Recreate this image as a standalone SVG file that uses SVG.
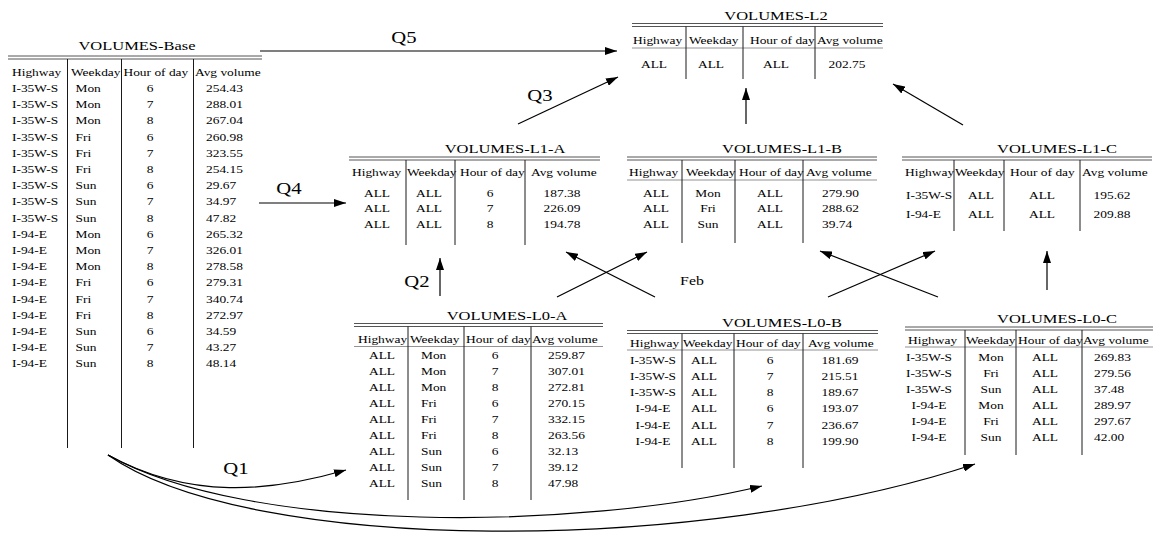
<svg xmlns="http://www.w3.org/2000/svg" width="1156" height="537" viewBox="0 0 1156 537">
<style>
 text { font-family: "Liberation Serif", "Times New Roman", serif; font-size: 11px; fill: #000; }
 .ti { font-size: 13.5px; }
 .q { font-size: 17px; }
 .m { text-anchor: middle; }
 .r { stroke: #555; stroke-width: 1; }
 .v { stroke: #1a1a1a; stroke-width: 1; }
 .u { stroke: #777; stroke-width: 0.8; }
 .a { fill: none; stroke: #000; stroke-width: 1.2; marker-end: url(#ah); }
</style>
<defs>
 <marker id="ah" markerUnits="userSpaceOnUse" markerWidth="12" markerHeight="8" refX="12" refY="4" orient="auto"><path d="M0,0 L12,4 L0,8 z" fill="#000"/></marker>
</defs>
<rect width="1156" height="537" fill="#fff"/>

<g id="volumes-base">
 <line class="r" x1="8" y1="56" x2="262" y2="56"/>
 <line class="r" x1="8" y1="59" x2="262" y2="59"/>
 <line class="v" x1="67.5" y1="59" x2="67.5" y2="448"/>
 <line class="v" x1="121.5" y1="59" x2="121.5" y2="448"/>
 <line class="v" x1="193.5" y1="59" x2="193.5" y2="448"/>
 <g transform="scale(1.22,1)">
  <text class="ti m" x="112.3" y="49.6">VOLUMES-Base</text>
  <text x="9.84" y="75.8">Highway</text>
  <text x="58.2" y="75.8">Weekday</text>
  <text x="101.23" y="75.8">Hour of day</text>
  <text x="159.84" y="75.8">Avg volume</text>
  <text><tspan x="9.84" y="92.1">I-35W-S</tspan><tspan x="9.84" y="108.3">I-35W-S</tspan><tspan x="9.84" y="124.5">I-35W-S</tspan><tspan x="9.84" y="140.7">I-35W-S</tspan><tspan x="9.84" y="156.9">I-35W-S</tspan><tspan x="9.84" y="173.1">I-35W-S</tspan><tspan x="9.84" y="189.3">I-35W-S</tspan><tspan x="9.84" y="205.5">I-35W-S</tspan><tspan x="9.84" y="221.7">I-35W-S</tspan><tspan x="9.84" y="237.9">I-94-E</tspan><tspan x="9.84" y="254.1">I-94-E</tspan><tspan x="9.84" y="270.3">I-94-E</tspan><tspan x="9.84" y="286.5">I-94-E</tspan><tspan x="9.84" y="302.7">I-94-E</tspan><tspan x="9.84" y="318.9">I-94-E</tspan><tspan x="9.84" y="335.1">I-94-E</tspan><tspan x="9.84" y="351.3">I-94-E</tspan><tspan x="9.84" y="367.5">I-94-E</tspan></text>
  <text><tspan x="61.89" y="92.1">Mon</tspan><tspan x="61.89" y="108.3">Mon</tspan><tspan x="61.89" y="124.5">Mon</tspan><tspan x="61.89" y="140.7">Fri</tspan><tspan x="61.89" y="156.9">Fri</tspan><tspan x="61.89" y="173.1">Fri</tspan><tspan x="61.89" y="189.3">Sun</tspan><tspan x="61.89" y="205.5">Sun</tspan><tspan x="61.89" y="221.7">Sun</tspan><tspan x="61.89" y="237.9">Mon</tspan><tspan x="61.89" y="254.1">Mon</tspan><tspan x="61.89" y="270.3">Mon</tspan><tspan x="61.89" y="286.5">Fri</tspan><tspan x="61.89" y="302.7">Fri</tspan><tspan x="61.89" y="318.9">Fri</tspan><tspan x="61.89" y="335.1">Sun</tspan><tspan x="61.89" y="351.3">Sun</tspan><tspan x="61.89" y="367.5">Sun</tspan></text>
  <text class="m"><tspan x="122.95" y="92.1">6</tspan><tspan x="122.95" y="108.3">7</tspan><tspan x="122.95" y="124.5">8</tspan><tspan x="122.95" y="140.7">6</tspan><tspan x="122.95" y="156.9">7</tspan><tspan x="122.95" y="173.1">8</tspan><tspan x="122.95" y="189.3">6</tspan><tspan x="122.95" y="205.5">7</tspan><tspan x="122.95" y="221.7">8</tspan><tspan x="122.95" y="237.9">6</tspan><tspan x="122.95" y="254.1">7</tspan><tspan x="122.95" y="270.3">8</tspan><tspan x="122.95" y="286.5">6</tspan><tspan x="122.95" y="302.7">7</tspan><tspan x="122.95" y="318.9">8</tspan><tspan x="122.95" y="335.1">6</tspan><tspan x="122.95" y="351.3">7</tspan><tspan x="122.95" y="367.5">8</tspan></text>
  <text><tspan x="168.85" y="92.1">254.43</tspan><tspan x="168.85" y="108.3">288.01</tspan><tspan x="168.85" y="124.5">267.04</tspan><tspan x="168.85" y="140.7">260.98</tspan><tspan x="168.85" y="156.9">323.55</tspan><tspan x="168.85" y="173.1">254.15</tspan><tspan x="168.85" y="189.3">29.67</tspan><tspan x="168.85" y="205.5">34.97</tspan><tspan x="168.85" y="221.7">47.82</tspan><tspan x="168.85" y="237.9">265.32</tspan><tspan x="168.85" y="254.1">326.01</tspan><tspan x="168.85" y="270.3">278.58</tspan><tspan x="168.85" y="286.5">279.31</tspan><tspan x="168.85" y="302.7">340.74</tspan><tspan x="168.85" y="318.9">272.97</tspan><tspan x="168.85" y="335.1">34.59</tspan><tspan x="168.85" y="351.3">43.27</tspan><tspan x="168.85" y="367.5">48.14</tspan></text>
 </g>
</g>

<g id="volumes-l2">
 <line class="r" x1="632" y1="23.5" x2="883" y2="23.5"/>
 <line class="r" x1="632" y1="26.5" x2="883" y2="26.5"/>
 <line class="u" x1="632" y1="48" x2="883" y2="48"/>
 <line class="v" x1="686" y1="26.5" x2="686" y2="79"/>
 <line class="v" x1="743" y1="26.5" x2="743" y2="79"/>
 <line class="v" x1="815" y1="26.5" x2="815" y2="79"/>
 <g transform="scale(1.22,1)">
  <text class="ti m" x="636.07" y="20.5">VOLUMES-L2</text>
  <text x="518.85" y="44.5">Highway</text>
  <text x="564.75" y="44.5">Weekday</text>
  <text x="614.75" y="44.5">Hour of day</text>
  <text x="669.67" y="44.5">Avg volume</text>
  <text class="m" x="536.07" y="68">ALL</text>
  <text class="m" x="582.79" y="68">ALL</text>
  <text class="m" x="636.07" y="68">ALL</text>
  <text class="m" x="694.26" y="68">202.75</text>
 </g>
</g>

<g id="volumes-l1-a">
 <line class="r" x1="349" y1="157" x2="600" y2="157"/>
 <line class="r" x1="349" y1="160" x2="600" y2="160"/>
 <line class="v" x1="406" y1="160" x2="406" y2="245"/>
 <line class="v" x1="455" y1="160" x2="455" y2="245"/>
 <line class="v" x1="525" y1="160" x2="525" y2="245"/>
 <g transform="scale(1.22,1)">
  <text class="ti m" x="413.93" y="152.6">VOLUMES-L1-A</text>
  <text x="288.52" y="175.8">Highway</text>
  <text x="333.61" y="175.8">Weekday</text>
  <text x="377.05" y="175.8">Hour of day</text>
  <text x="435.25" y="175.8">Avg volume</text>
  <text class="m"><tspan x="309.02" y="196.8">ALL</tspan><tspan x="309.02" y="212.3">ALL</tspan><tspan x="309.02" y="227.8">ALL</tspan></text>
  <text class="m"><tspan x="351.64" y="196.8">ALL</tspan><tspan x="351.64" y="212.3">ALL</tspan><tspan x="351.64" y="227.8">ALL</tspan></text>
  <text class="m"><tspan x="401.64" y="196.8">6</tspan><tspan x="401.64" y="212.3">7</tspan><tspan x="401.64" y="227.8">8</tspan></text>
  <text class="m"><tspan x="460.66" y="196.8">187.38</tspan><tspan x="460.66" y="212.3">226.09</tspan><tspan x="460.66" y="227.8">194.78</tspan></text>
 </g>
</g>

<g id="volumes-l1-b">
 <line class="r" x1="627" y1="157" x2="877" y2="157"/>
 <line class="r" x1="627" y1="160" x2="877" y2="160"/>
 <line class="u" x1="627" y1="180" x2="877" y2="180"/>
 <line class="v" x1="682" y1="160" x2="682" y2="243"/>
 <line class="v" x1="735" y1="160" x2="735" y2="243"/>
 <line class="v" x1="803" y1="160" x2="803" y2="243"/>
 <g transform="scale(1.22,1)">
  <text class="ti m" x="640.98" y="152.6">VOLUMES-L1-B</text>
  <text x="515.57" y="175.8">Highway</text>
  <text x="562.3" y="175.8">Weekday</text>
  <text x="605.74" y="175.8">Hour of day</text>
  <text x="660.66" y="175.8">Avg volume</text>
  <text class="m"><tspan x="537.7" y="196.8">ALL</tspan><tspan x="537.7" y="212.3">ALL</tspan><tspan x="537.7" y="227.8">ALL</tspan></text>
  <text class="m"><tspan x="580.33" y="196.8">Mon</tspan><tspan x="580.33" y="212.3">Fri</tspan><tspan x="580.33" y="227.8">Sun</tspan></text>
  <text class="m"><tspan x="631.15" y="196.8">ALL</tspan><tspan x="631.15" y="212.3">ALL</tspan><tspan x="631.15" y="227.8">ALL</tspan></text>
  <text><tspan x="673.77" y="196.8">279.90</tspan><tspan x="673.77" y="212.3">288.62</tspan><tspan x="673.77" y="227.8">39.74</tspan></text>
 </g>
</g>

<g id="volumes-l1-c">
 <line class="r" x1="902" y1="157" x2="1152" y2="157"/>
 <line class="r" x1="902" y1="160" x2="1152" y2="160"/>
 <line class="v" x1="954" y1="160" x2="954" y2="231"/>
 <line class="v" x1="1004" y1="160" x2="1004" y2="231"/>
 <line class="v" x1="1080" y1="160" x2="1080" y2="231"/>
 <g transform="scale(1.22,1)">
  <text class="ti m" x="866.39" y="152.6">VOLUMES-L1-C</text>
  <text x="741.8" y="175.8">Highway</text>
  <text x="782.79" y="175.8">Weekday</text>
  <text x="827.87" y="175.8">Hour of day</text>
  <text x="886.89" y="175.8">Avg volume</text>
  <text><tspan x="742.62" y="198.8">I-35W-S</tspan><tspan x="742.62" y="217.8">I-94-E</tspan></text>
  <text class="m"><tspan x="804.1" y="198.8">ALL</tspan><tspan x="804.1" y="217.8">ALL</tspan></text>
  <text class="m"><tspan x="854.1" y="198.8">ALL</tspan><tspan x="854.1" y="217.8">ALL</tspan></text>
  <text class="m"><tspan x="911.48" y="198.8">195.62</tspan><tspan x="911.48" y="217.8">209.88</tspan></text>
 </g>
</g>

<g id="volumes-l0-a">
 <line class="r" x1="354" y1="323.5" x2="603" y2="323.5"/>
 <line class="r" x1="354" y1="326.5" x2="603" y2="326.5"/>
 <line class="u" x1="354" y1="346.5" x2="603" y2="346.5"/>
 <line class="v" x1="408" y1="326.5" x2="408" y2="500"/>
 <line class="v" x1="464" y1="326.5" x2="464" y2="500"/>
 <line class="v" x1="531" y1="326.5" x2="531" y2="500"/>
 <g transform="scale(1.22,1)">
  <text class="ti m" x="415.57" y="319.6">VOLUMES-L0-A</text>
  <text x="293.44" y="342.8">Highway</text>
  <text x="336.07" y="342.8">Weekday</text>
  <text x="381.97" y="342.8">Hour of day</text>
  <text x="436.07" y="342.8">Avg volume</text>
  <text class="m"><tspan x="313.11" y="358.8">ALL</tspan><tspan x="313.11" y="374.8">ALL</tspan><tspan x="313.11" y="390.8">ALL</tspan><tspan x="313.11" y="406.8">ALL</tspan><tspan x="313.11" y="422.8">ALL</tspan><tspan x="313.11" y="438.8">ALL</tspan><tspan x="313.11" y="454.8">ALL</tspan><tspan x="313.11" y="470.8">ALL</tspan><tspan x="313.11" y="486.8">ALL</tspan></text>
  <text><tspan x="345.08" y="358.8">Mon</tspan><tspan x="345.08" y="374.8">Mon</tspan><tspan x="345.08" y="390.8">Mon</tspan><tspan x="345.08" y="406.8">Fri</tspan><tspan x="345.08" y="422.8">Fri</tspan><tspan x="345.08" y="438.8">Fri</tspan><tspan x="345.08" y="454.8">Sun</tspan><tspan x="345.08" y="470.8">Sun</tspan><tspan x="345.08" y="486.8">Sun</tspan></text>
  <text class="m"><tspan x="405.74" y="358.8">6</tspan><tspan x="405.74" y="374.8">7</tspan><tspan x="405.74" y="390.8">8</tspan><tspan x="405.74" y="406.8">6</tspan><tspan x="405.74" y="422.8">7</tspan><tspan x="405.74" y="438.8">8</tspan><tspan x="405.74" y="454.8">6</tspan><tspan x="405.74" y="470.8">7</tspan><tspan x="405.74" y="486.8">8</tspan></text>
  <text><tspan x="449.18" y="358.8">259.87</tspan><tspan x="449.18" y="374.8">307.01</tspan><tspan x="449.18" y="390.8">272.81</tspan><tspan x="449.18" y="406.8">270.15</tspan><tspan x="449.18" y="422.8">332.15</tspan><tspan x="449.18" y="438.8">263.56</tspan><tspan x="449.18" y="454.8">32.13</tspan><tspan x="449.18" y="470.8">39.12</tspan><tspan x="449.18" y="486.8">47.98</tspan></text>
 </g>
</g>

<g id="volumes-l0-b">
 <line class="r" x1="627" y1="330.5" x2="878" y2="330.5"/>
 <line class="r" x1="627" y1="333.5" x2="878" y2="333.5"/>
 <line class="u" x1="627" y1="350" x2="878" y2="350"/>
 <line class="v" x1="682" y1="333.5" x2="682" y2="468"/>
 <line class="v" x1="734" y1="333.5" x2="734" y2="468"/>
 <line class="v" x1="803" y1="333.5" x2="803" y2="468"/>
 <g transform="scale(1.22,1)">
  <text class="ti m" x="640.98" y="326.6">VOLUMES-L0-B</text>
  <text x="516.39" y="346.8">Highway</text>
  <text x="559.84" y="346.8">Weekday</text>
  <text x="603.28" y="346.8">Hour of day</text>
  <text x="662.3" y="346.8">Avg volume</text>
  <text class="m"><tspan x="535.25" y="363.8">I-35W-S</tspan><tspan x="535.25" y="380">I-35W-S</tspan><tspan x="535.25" y="396.2">I-35W-S</tspan><tspan x="535.25" y="412.4">I-94-E</tspan><tspan x="535.25" y="428.6">I-94-E</tspan><tspan x="535.25" y="444.8">I-94-E</tspan></text>
  <text class="m"><tspan x="577.05" y="363.8">ALL</tspan><tspan x="577.05" y="380">ALL</tspan><tspan x="577.05" y="396.2">ALL</tspan><tspan x="577.05" y="412.4">ALL</tspan><tspan x="577.05" y="428.6">ALL</tspan><tspan x="577.05" y="444.8">ALL</tspan></text>
  <text class="m"><tspan x="631.15" y="363.8">6</tspan><tspan x="631.15" y="380">7</tspan><tspan x="631.15" y="396.2">8</tspan><tspan x="631.15" y="412.4">6</tspan><tspan x="631.15" y="428.6">7</tspan><tspan x="631.15" y="444.8">8</tspan></text>
  <text class="m"><tspan x="688.52" y="363.8">181.69</tspan><tspan x="688.52" y="380">215.51</tspan><tspan x="688.52" y="396.2">189.67</tspan><tspan x="688.52" y="412.4">193.07</tspan><tspan x="688.52" y="428.6">236.67</tspan><tspan x="688.52" y="444.8">199.90</tspan></text>
 </g>
</g>

<g id="volumes-l0-c">
 <line class="r" x1="905" y1="327" x2="1153" y2="327"/>
 <line class="r" x1="905" y1="330" x2="1153" y2="330"/>
 <line class="u" x1="905" y1="347" x2="1153" y2="347"/>
 <line class="v" x1="965" y1="330" x2="965" y2="455"/>
 <line class="v" x1="1016" y1="330" x2="1016" y2="455"/>
 <line class="v" x1="1082" y1="330" x2="1082" y2="455"/>
 <g transform="scale(1.22,1)">
  <text class="ti m" x="866.39" y="322.6">VOLUMES-L0-C</text>
  <text x="744.26" y="343.8">Highway</text>
  <text x="791.8" y="343.8">Weekday</text>
  <text x="834.43" y="343.8">Hour of day</text>
  <text x="887.7" y="343.8">Avg volume</text>
  <text class="m"><tspan x="761.48" y="360.8">I-35W-S</tspan><tspan x="761.48" y="376.8">I-35W-S</tspan><tspan x="761.48" y="392.8">I-35W-S</tspan><tspan x="761.48" y="408.8">I-94-E</tspan><tspan x="761.48" y="424.8">I-94-E</tspan><tspan x="761.48" y="440.8">I-94-E</tspan></text>
  <text class="m"><tspan x="812.3" y="360.8">Mon</tspan><tspan x="812.3" y="376.8">Fri</tspan><tspan x="812.3" y="392.8">Sun</tspan><tspan x="812.3" y="408.8">Mon</tspan><tspan x="812.3" y="424.8">Fri</tspan><tspan x="812.3" y="440.8">Sun</tspan></text>
  <text class="m"><tspan x="856.56" y="360.8">ALL</tspan><tspan x="856.56" y="376.8">ALL</tspan><tspan x="856.56" y="392.8">ALL</tspan><tspan x="856.56" y="408.8">ALL</tspan><tspan x="856.56" y="424.8">ALL</tspan><tspan x="856.56" y="440.8">ALL</tspan></text>
  <text><tspan x="896.72" y="360.8">269.83</tspan><tspan x="896.72" y="376.8">279.56</tspan><tspan x="896.72" y="392.8">37.48</tspan><tspan x="896.72" y="408.8">289.97</tspan><tspan x="896.72" y="424.8">297.67</tspan><tspan x="896.72" y="440.8">42.00</tspan></text>
 </g>
</g>

<g id="connectors">
 <path class="a" d="M260,51 H617"/>
 <path class="a" d="M518,124 L618,77"/>
 <path class="a" d="M746,124 V88"/>
 <path class="a" d="M963,125 L893,84"/>
 <path class="a" d="M259,203 H346"/>
 <path class="a" d="M440,296 V258"/>
 <path class="a" d="M557,297 L647,252"/>
 <path class="a" d="M655,297 L566,252"/>
 <path class="a" d="M828,297 L935,251"/>
 <path class="a" d="M938,297 L820,251"/>
 <path class="a" d="M1047,290 V251"/>
 <path class="a" d="M108,455 C190,500 270,492 346,470"/>
 <path class="a" d="M108,455 C250,535 580,530 762,486"/>
 <path class="a" d="M108,455 C250,555 700,555 975,464"/>
 <g transform="scale(1.22,1)">
  <text class="q m" x="331.15" y="43">Q5</text>
  <text class="q m" x="442.62" y="101">Q3</text>
  <text class="q m" x="236.89" y="194">Q4</text>
  <text class="q m" x="341.8" y="287">Q2</text>
  <text class="q m" x="193.44" y="474">Q1</text>
  <text class="m" style="font-size:13px" x="567.21" y="285">Feb</text>
 </g>
</g>
</svg>
